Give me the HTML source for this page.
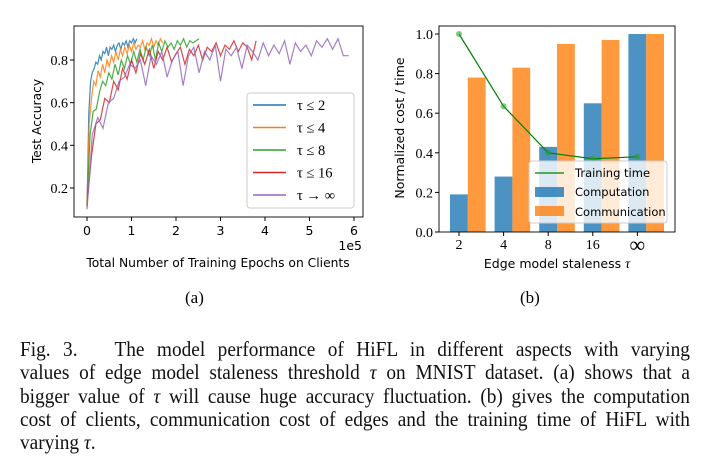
<!DOCTYPE html>
<html><head><meta charset="utf-8"><style>
body{margin:0;background:#fff;width:709px;height:471px;overflow:hidden;position:relative}
svg{position:absolute;left:0;top:0}
.cap{position:absolute;left:20px;top:338px;width:728px;transform-origin:0 0;transform:scaleX(0.9203);font-family:"Liberation Serif",serif;font-size:21px;line-height:23.3px;color:#111}
.ln{white-space:nowrap;text-align:justify;text-align-last:justify;width:728px}
.ln.last{text-align-last:left}
.sub{position:absolute;font-family:"Liberation Serif",serif;font-size:17px;top:288px}
</style></head><body>
<svg width="709" height="471" id="svg"></svg>
<div class="sub" style="left:185px">(a)</div>
<div class="sub" style="left:520px">(b)</div>
<div class="cap">
<div class="ln">Fig. 3.&nbsp;&nbsp; The model performance of HiFL in different aspects with varying</div>
<div class="ln">values of edge model staleness threshold <i>τ</i> on MNIST dataset. (a) shows that a</div>
<div class="ln">bigger value of <i>τ</i> will cause huge accuracy fluctuation. (b) gives the computation</div>
<div class="ln">cost of clients, communication cost of edges and the training time of HiFL with</div>
<div class="ln last">varying <i>τ</i>.</div>
</div>
<script>
const blueVals=[0.11,0.55,0.70,0.74,0.76,0.79,0.78,0.82,0.80,0.84,0.83,0.86,0.82,0.86,0.85,0.87,0.84,0.87,0.88,0.85,0.88,0.87,0.89,0.86,0.89,0.88,0.90,0.88,0.90];
const orangeVals=[0.12,0.50,0.62,0.70,0.68,0.75,0.72,0.78,0.74,0.80,0.77,0.82,0.79,0.84,0.80,0.85,0.82,0.86,0.83,0.87,0.84,0.88,0.85,0.87,0.86,0.89,0.85,0.88,0.87,0.90,0.86,0.89,0.87,0.90,0.88];
const greenVals=[0.12,0.45,0.56,0.57,0.65,0.70,0.68,0.74,0.71,0.78,0.73,0.80,0.76,0.82,0.78,0.84,0.79,0.85,0.80,0.86,0.82,0.87,0.80,0.88,0.84,0.89,0.86,0.88,0.85,0.89,0.87,0.90,0.86,0.89,0.88,0.89,0.90];
const redVals=[0.12,0.35,0.50,0.52,0.62,0.60,0.70,0.66,0.76,0.71,0.80,0.74,0.83,0.78,0.85,0.76,0.84,0.80,0.86,0.79,0.83,0.86,0.78,0.85,0.82,0.87,0.80,0.86,0.84,0.88,0.82,0.87,0.85,0.89,0.84,0.88,0.86,0.80,0.89];
const purpleVals=[0.10,0.45,0.53,0.48,0.60,0.62,0.70,0.72,0.78,0.76,0.80,0.68,0.82,0.78,0.84,0.72,0.80,0.84,0.68,0.82,0.86,0.74,0.84,0.80,0.87,0.70,0.85,0.82,0.86,0.76,0.87,0.84,0.80,0.88,0.82,0.87,0.83,0.89,0.78,0.88,0.84,0.87,0.82,0.89,0.86,0.90,0.85,0.90,0.82,0.82];
const seriesSteps=[0.04,0.05,0.07,0.1,0.12]; // 1e5 epochs per point
const seriesNames=["τ ≤ 2","τ ≤ 4","τ ≤ 8","τ ≤ 16","τ → ∞"];
const leftXTicks=[0,1,2,3,4,5,6];
const leftYTicks=[0.2,0.4,0.6,0.8];
const categories=["2","4","8","16","∞"];
const computation=[0.19,0.28,0.43,0.65,1.0];
const communication=[0.78,0.83,0.95,0.97,1.0];
const trainingTime=[1.0,0.635,0.40,0.37,0.38];
const rightYTicks=[0.0,0.2,0.4,0.6,0.8,1.0];

const NS="http://www.w3.org/2000/svg",svg=document.getElementById('svg');
function mk(t,a,p){const e=document.createElementNS(NS,t);for(const k in a)e.setAttribute(k,a[k]);(p||svg).appendChild(e);return e;}
const cols=["#1f77b4","#ff7f0e","#2ca02c","#d62728","#9467bd"];
// left chart
const lx=v=>87+v*44.5, ly=v=>60+(0.8-v)*213.3;
const g1=mk('g',{});
[blueVals,orangeVals,greenVals,redVals,purpleVals].forEach((vals,i)=>{
  const pts=vals.map((v,j)=>lx(j*seriesSteps[i]).toFixed(1)+','+ly(v).toFixed(1)).join(' ');
  const p=mk('polyline',{points:pts,fill:'none',stroke:cols[i],'stroke-width':1.2,'stroke-opacity':0.85},g1);
  
  
});
mk('rect',{x:74,y:26,width:289,height:191,fill:'none',stroke:'#000','stroke-width':0.9},g1);
leftXTicks.forEach(t=>{mk('line',{x1:lx(t),x2:lx(t),y1:217,y2:221,stroke:'#000'},g1);
  const e=mk('text',{x:lx(t),y:235,'text-anchor':'middle','font-family':'DejaVu Sans,sans-serif','font-size':12.5},g1);e.textContent=t;
  });
leftYTicks.forEach(t=>{mk('line',{x1:70,x2:74,y1:ly(t),y2:ly(t),stroke:'#000'},g1);
  const e=mk('text',{x:68,y:ly(t)+5,'text-anchor':'end','font-family':'Liberation Serif,serif','font-size':14},g1);e.textContent=t.toFixed(1);
  });
let e=mk('text',{x:362,y:250,'text-anchor':'end','font-family':'DejaVu Sans,sans-serif','font-size':12.5},g1);e.textContent='1e5';
e=mk('text',{x:218,y:267,'text-anchor':'middle','font-family':'DejaVu Sans,sans-serif','font-size':12.3},g1);e.textContent='Total Number of Training Epochs on Clients';

e=mk('text',{x:0,y:0,'text-anchor':'middle','font-family':'DejaVu Sans,sans-serif','font-size':12.3,transform:'translate(41,121) rotate(-90)'},g1);e.textContent='Test Accuracy';

const lg=mk('g',{},g1);
mk('rect',{x:247,y:93,width:107,height:115,rx:3,fill:'#fff','fill-opacity':0.8,stroke:'#ccc'},lg);
seriesNames.forEach((n,i)=>{const y=105+i*22.5;
  mk('line',{x1:253,x2:286,y1:y,y2:y,stroke:cols[i],'stroke-width':1.5},lg);
  const t=mk('text',{x:297,y:y+5,'font-family':'Liberation Serif,serif','font-size':14.5},lg);t.textContent=n;
  });
// right chart
const rx=i=>459+i*44.6, ry=v=>232-v*198;
const g2=mk('g',{});
categories.forEach((c,i)=>{
  const b=mk('rect',{x:rx(i)-9,y:ry(computation[i]),width:17.8,height:232-ry(computation[i]),fill:'#1f77b4','fill-opacity':0.8},g2);
  
  const o=mk('rect',{x:rx(i)+8.8,y:ry(communication[i]),width:17.8,height:232-ry(communication[i]),fill:'#ff7f0e','fill-opacity':0.8},g2);
  
  mk('line',{x1:rx(i),x2:rx(i),y1:232,y2:236,stroke:'#000'},g2);
  const t=mk('text',{x:rx(i),y:c==='∞'?252:249,'text-anchor':'middle','font-family':'Liberation Serif,serif','font-size':c==='∞'?22:14},g2);t.textContent=c;
  
});
const lp=mk('polyline',{points:trainingTime.map((v,i)=>rx(i)+','+ry(v)).join(' '),fill:'none',stroke:'#008000','stroke-width':1.2},g2);

trainingTime.forEach((v,i)=>{const c=mk('circle',{cx:rx(i),cy:ry(v),r:3,fill:'#2ca02c','fill-opacity':0.6},g2);
  });
const lg2=mk('g',{},g2);
mk('rect',{x:529,y:161,width:138,height:62,rx:3,fill:'#fff','fill-opacity':0.8,stroke:'#ccc'},lg2);
mk('line',{x1:535,x2:564,y1:173,y2:173,stroke:'#008000','stroke-width':1.3},lg2);
mk('rect',{x:535,y:187,width:29,height:10,fill:'#1f77b4','fill-opacity':0.8},lg2);
mk('rect',{x:535,y:206,width:29,height:10,fill:'#ff7f0e','fill-opacity':0.8},lg2);
[['Training time',177],['Computation',196],['Communication',216]].forEach(a=>{const t=mk('text',{x:575,y:a[1],'font-family':'DejaVu Sans,sans-serif','font-size':11.5},lg2);t.textContent=a[0];
  });
mk('rect',{x:439,y:26,width:236,height:206,fill:'none',stroke:'#000','stroke-width':0.9},g2);
rightYTicks.forEach(t=>{mk('line',{x1:435,x2:439,y1:ry(t),y2:ry(t),stroke:'#000'},g2);
  const e=mk('text',{x:433,y:ry(t)+5,'text-anchor':'end','font-family':'Liberation Serif,serif','font-size':14},g2);e.textContent=t.toFixed(1);
  });
e=mk('text',{x:557,y:268,'text-anchor':'middle','font-family':'DejaVu Sans,sans-serif','font-size':12.5},g2);e.innerHTML='Edge model staleness <tspan font-family="Liberation Serif,serif" font-style="italic" font-size="14">τ</tspan>';

e=mk('text',{x:0,y:0,'text-anchor':'middle','font-family':'DejaVu Sans,sans-serif','font-size':12.5,transform:'translate(404,128) rotate(-90)'},g2);e.textContent='Normalized cost / time';

</script>
</body></html>
